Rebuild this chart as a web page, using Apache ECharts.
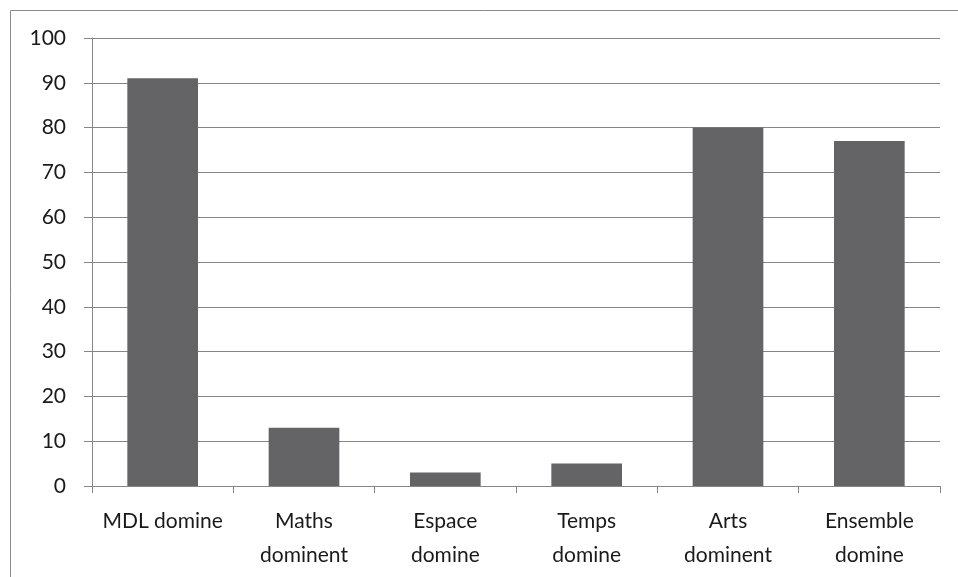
<!DOCTYPE html>
<html><head><meta charset="utf-8">
<script src="https://cdn.jsdelivr.net/npm/echarts@6/dist/echarts.min.js"></script>
<style>html,body{margin:0;padding:0;background:#fff}#c{width:958px;height:577px}</style>
</head><body><div id="c"></div>
<script>
const categories = ["MDL domine", "Maths\ndominent", "Espace\ndomine", "Temps\ndomine", "Arts\ndominent", "Ensemble\ndomine"];
const values = [91, 13, 3, 5, 80, 77];
const chart = echarts.init(document.getElementById('c'), null, {renderer: 'canvas'});
const font = "Lato";
chart.setOption({
  animation: false,
  graphic: [{type: 'rect', shape: {x: 10.5, y: 10.5, width: 2000, height: 2000}, style: {fill: 'none', stroke: '#8a8a8a', lineWidth: 1}}],
  grid: {left: 92, right: 18, top: 38, bottom: 91},
  xAxis: {
    type: 'category', data: categories, boundaryGap: true,
    axisLine: {lineStyle: {color: '#868686', width: 1}},
    axisTick: {show: true, length: 7, lineStyle: {color: '#868686'}},
    axisLabel: {color: '#1a1a1a', fontSize: 21, fontFamily: font, margin: 18, lineHeight: 34, interval: 0}
  },
  yAxis: {
    type: 'value', min: 0, max: 100, interval: 10,
    axisLine: {show: true, lineStyle: {color: '#868686', width: 1}},
    axisTick: {show: true, length: 8, lineStyle: {color: '#868686'}},
    splitLine: {lineStyle: {color: '#868686', width: 1}},
    axisLabel: {color: '#1a1a1a', fontSize: 21, fontFamily: font, margin: 26}
  },
  series: [{type: 'bar', data: values, barWidth: '50%', itemStyle: {color: '#646466'}}]
});
</script></body></html>
